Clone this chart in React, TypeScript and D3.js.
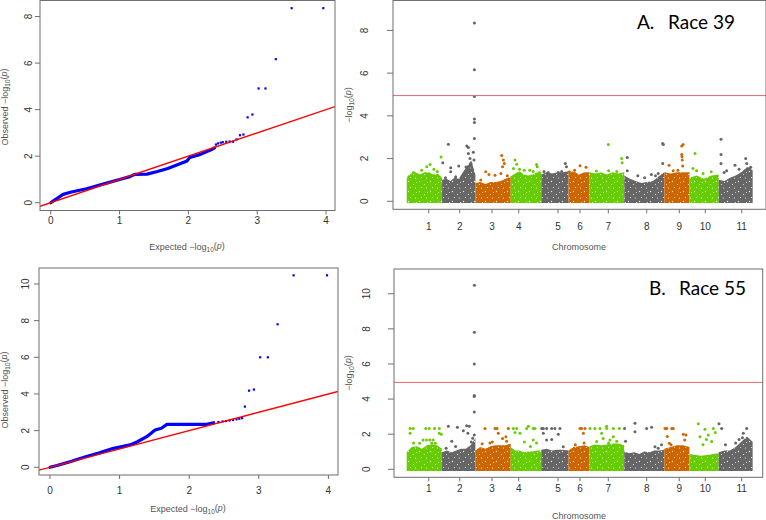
import React, { useRef, useEffect } from 'react';
import * as d3 from 'd3';

// chromosomes (common bean, Mb)
const chromosomes = ['1', '2', '3', '4', '5', '6', '7', '8', '9', '10', '11'];
const chromLengthMb = [52, 49, 52, 45, 40, 31, 51, 59, 37, 43, 50];
const chromTickMb = [32.4, 26, 24.5, 11.8, 24.6, 17, 27.6, 33.1, 22, 23.3, 33.9];
const chromColors = ['#66cd00', '#666666', '#cd6600'];

const qqTicksX = [0, 1, 2, 3, 4];
const ticksY39 = [0, 2, 4, 6, 8];
const ticksY55 = [0, 2, 4, 6, 8, 10];
const threshold = 4.95;

// QQ race 39: dense part (expected, observed) and separate points
const qq39Curve = [
  [0, 0], [0.05, 0.1], [0.1, 0.2], [0.18, 0.36], [0.3, 0.46], [0.52, 0.6], [0.8, 0.83], [1.0, 1.0],
  [1.15, 1.12], [1.22, 1.22], [1.4, 1.23], [1.55, 1.34], [1.7, 1.47], [1.85, 1.64], [1.98, 1.79],
  [2.02, 1.95], [2.15, 2.05], [2.32, 2.26], [2.38, 2.36],
];
const qq39Points = [
  [2.4, 2.5], [2.43, 2.55], [2.47, 2.58], [2.5, 2.6], [2.55, 2.62], [2.6, 2.63], [2.65, 2.62],
  [2.7, 2.72], [2.75, 2.9], [2.8, 2.93], [2.86, 3.67], [2.93, 3.79], [3.02, 4.91], [3.12, 4.91],
  [3.27, 6.17], [3.5, 8.36], [3.96, 8.36],
];

// QQ race 55
const qq55Curve = [
  [0, 0], [0.1, 0.1], [0.3, 0.32], [0.5, 0.56], [0.7, 0.78], [0.9, 1.02], [1.15, 1.22], [1.25, 1.38],
  [1.39, 1.67], [1.51, 2.03], [1.6, 2.13], [1.68, 2.34], [2.25, 2.34], [2.35, 2.43],
];
const qq55Points = [
  [2.42, 2.47], [2.48, 2.5], [2.53, 2.52], [2.58, 2.55], [2.63, 2.58], [2.68, 2.62], [2.72, 2.65],
  [2.76, 2.68], [2.8, 3.31], [2.86, 4.18], [2.93, 4.24], [3.02, 6.0], [3.13, 6.0], [3.27, 7.8],
  [3.5, 10.47], [3.98, 10.47],
];

// Manhattan race 39: top of the dense cloud along each chromosome
const dense39 = [
  [1.0, 1.25, 1.3, 1.2, 1.3, 1.3, 1.2, 1.25, 1.05],
  [0.95, 1.0, 0.9, 1.05, 1.0, 1.3, 1.6, 1.85, 1.2],
  [0.8, 0.85, 0.75, 0.85, 0.85, 0.9, 1.0, 1.1],
  [1.1, 1.25, 1.35, 1.2, 1.15, 1.2, 1.3, 1.4],
  [1.2, 1.3, 1.25, 1.3, 1.3, 1.35],
  [1.3, 1.35, 1.2, 1.3, 1.3],
  [1.3, 1.25, 1.3, 1.2, 1.3, 1.25, 1.3],
  [1.15, 1.0, 0.9, 0.8, 0.85, 0.9, 1.1, 1.3],
  [1.3, 1.25, 1.3, 1.3, 1.3],
  [1.05, 1.15, 1.0, 1.15, 1.2],
  [0.95, 0.9, 1.05, 1.15, 1.3, 1.55, 1.4],
];
// [chromosome, position Mb, -log10 p]
const peaks39 = [
  [1, 34.3, 1.72], [1, 29.4, 1.62], [1, 50.5, 2.08], [1, 22, 1.45], [1, 40, 1.5], [1, 45, 1.4],
  [1, 10, 1.35], [1, 3, 1.15],
  [2, 1, 1.8], [2, 9.2, 2.67], [2, 12.7, 1.57], [2, 12.7, 1.38], [2, 24.5, 1.65], [2, 36.3, 2.59],
  [2, 38.7, 2.52], [2, 38.7, 2.24], [2, 41.1, 2.0], [2, 35.2, 1.61], [2, 42.6, 1.77], [2, 46, 2.3],
  [2, 47.5, 2.94], [2, 47.5, 3.69], [2, 47.5, 3.85], [2, 47.5, 4.91], [2, 47.5, 6.16], [2, 47.5, 8.35],
  [2, 47, 1.93], [2, 44, 1.5], [2, 40, 1.4], [2, 33, 1.35], [2, 20, 1.15], [2, 5, 1.1],
  [3, 15.2, 1.38], [3, 28.9, 1.22], [3, 38.7, 2.14], [3, 41.2, 1.93], [3, 40, 1.62], [3, 42.6, 1.77],
  [3, 37.5, 1.3], [3, 20, 1.25], [3, 8, 1.0], [3, 47, 1.2],
  [4, 6.3, 1.93], [4, 8.8, 1.74], [4, 3.9, 1.54], [4, 38, 1.72], [4, 39, 1.62], [4, 20, 1.45], [4, 28, 1.45],
  [4, 13, 1.5], [4, 33, 1.4],
  [5, 35.3, 1.77], [5, 37, 1.62], [5, 10, 1.35], [5, 25, 1.35], [5, 30, 1.4], [5, 4, 1.4],
  [6, 17, 1.67], [6, 25.8, 1.59], [6, 1.3, 1.38], [6, 9, 1.45],
  [7, 27.6, 2.66], [7, 47.3, 2.0], [7, 48, 1.8], [7, 28, 1.43], [7, 10, 1.42], [7, 40, 1.4],
  [8, 4.5, 2.05], [8, 4.5, 1.43], [8, 56.6, 2.71], [8, 57.5, 2.66], [8, 56.6, 1.77], [8, 40, 1.25],
  [8, 50, 1.3], [8, 20, 1.2], [8, 30, 1.1], [8, 46, 1.2],
  [9, 25.6, 2.59], [9, 27.7, 2.66], [9, 25.6, 2.19], [9, 26, 2.09], [9, 26.4, 1.93], [9, 27, 1.65],
  [9, 7, 1.69], [9, 13, 1.43], [9, 20, 1.45],
  [10, 8.2, 2.24], [10, 5, 1.54], [10, 10.5, 1.43], [10, 32, 1.38], [10, 20, 1.3],
  [11, 3.4, 2.91], [11, 3.4, 2.19], [11, 3.4, 1.77], [11, 24, 1.69], [11, 39.7, 2.0], [11, 41.2, 1.77],
  [11, 45, 1.54], [11, 11.7, 1.43], [11, 8, 1.35], [11, 30, 1.5], [11, 47, 1.6],
];

// Manhattan race 55
const dense55 = [
  [0.9, 1.2, 1.25, 1.1, 1.3, 1.35, 1.3, 1.1],
  [0.9, 1.0, 0.9, 1.0, 1.1, 1.1, 1.3, 1.7],
  [1.0, 1.2, 1.1, 1.25, 1.3, 1.3, 1.3, 1.4],
  [1.2, 1.0, 1.0, 0.9, 0.95, 0.95, 1.0, 1.0],
  [1.05, 1.1, 1.0, 1.05, 1.05, 1.0],
  [1.0, 1.2, 1.25, 1.3, 1.2],
  [1.25, 1.35, 1.3, 1.35, 1.4, 1.4, 1.3],
  [0.95, 0.85, 0.9, 0.8, 0.95, 0.9, 1.0, 1.0, 1.05],
  [1.1, 1.2, 1.3, 1.3, 1.2],
  [0.8, 0.75, 0.7, 0.75, 0.8, 0.85],
  [0.9, 1.0, 1.0, 1.2, 1.5, 1.8, 1.5],
];
const peaks55 = [
  [1, 5, 2.33], [1, 9.5, 2.33], [1, 28, 2.33], [1, 33, 2.33], [1, 41, 2.33], [1, 48, 2.33],
  [1, 5, 2.05], [1, 48, 2.05], [1, 51, 2.0], [1, 24, 1.67], [1, 29, 1.67], [1, 34, 1.67], [1, 39, 1.67],
  [1, 19, 1.48], [1, 37, 1.48], [1, 42, 1.48], [1, 10, 1.5],
  [2, 9.3, 2.45], [2, 22.5, 2.39], [2, 36.2, 2.48], [2, 40.1, 2.45], [2, 31.3, 2.2], [2, 14.2, 1.6],
  [2, 47.5, 10.48], [2, 47.5, 7.8], [2, 47.5, 6.0], [2, 47.5, 4.2], [2, 47.3, 4.14], [2, 47.5, 3.26],
  [2, 47.5, 1.96], [2, 45.1, 1.77], [2, 38, 2.05], [2, 43, 1.55], [2, 20, 1.3], [2, 6, 1.2],
  [3, 14.2, 2.33], [3, 28.9, 2.33], [3, 32, 2.33], [3, 48.5, 2.33], [3, 33.8, 2.05], [3, 46.1, 1.6],
  [3, 21.5, 1.5], [3, 40, 1.75], [3, 45, 1.85], [3, 25, 1.55], [3, 10, 1.45],
  [4, 3.9, 2.33], [4, 8.8, 2.33], [4, 23.5, 2.33], [4, 33.3, 2.33], [4, 35.8, 2.33], [4, 26, 2.45],
  [4, 13.7, 2.05], [4, 6.3, 2.1], [4, 33.3, 1.67], [4, 38, 1.5], [4, 20, 1.55], [4, 29, 1.3],
  [5, 0.6, 2.33], [5, 3, 2.33], [5, 8, 2.33], [5, 15.3, 2.33], [5, 20, 2.33], [5, 27.5, 2.33],
  [5, 7.9, 1.67], [5, 15.3, 1.7], [5, 3, 2.05], [5, 32.4, 1.29], [5, 25, 2.0],
  [6, 17, 2.33], [6, 19.4, 2.33], [6, 24.3, 2.33], [6, 21.9, 2.05], [6, 10, 1.4], [6, 23, 1.5],
  [7, 0.7, 2.33], [7, 8, 2.33], [7, 15.4, 2.33], [7, 25.2, 2.33], [7, 35, 2.33], [7, 43.8, 2.33],
  [7, 25.2, 2.45], [7, 17.8, 2.05], [7, 30.1, 1.67], [7, 10.5, 1.58], [7, 35, 1.86], [7, 20, 1.75],
  [7, 28, 1.5], [7, 40, 1.6],
  [8, 15.9, 2.62], [8, 15.9, 2.14], [8, 33, 2.33], [8, 40.4, 2.4], [8, 0.5, 2.33], [8, 45.3, 1.29],
  [8, 55, 1.4], [8, 2, 1.6], [8, 50, 1.2],
  [9, 1, 2.33], [9, 3.5, 2.33], [9, 13.3, 2.33], [9, 11, 2.33], [9, 4.4, 1.87], [9, 7.4, 1.48],
  [9, 31.9, 1.96], [9, 30, 1.67], [9, 28, 2.0], [9, 10, 1.4],
  [10, 13, 2.6], [10, 22.9, 2.28], [10, 27.8, 1.96], [10, 35.1, 2.33], [10, 32.7, 1.58], [10, 15.5, 1.86],
  [10, 25, 1.7], [10, 20, 1.4], [10, 38, 2.1],
  [11, 0.5, 2.6], [11, 4.4, 2.33], [11, 41.2, 2.33], [11, 36.3, 2.05], [11, 30, 1.7], [11, 35, 1.8],
  [11, 38, 1.6], [11, 25, 1.5], [11, 10, 1.4],
];

const tickFont = '"Liberation Sans", Arial, sans-serif';
// white gaps inside the dense marker clouds
const speckSpots = [[1.5, 1.5, 0.7], [6.5, 4.5, 0.6], [3.5, 7.5, 0.55], [9.5, 2.5, 0.5], [8.5, 8, 0.6]];

function logLabel(text, prefix) {
  text.append('tspan').text(prefix + '\u2212log');
  text.append('tspan').attr('font-size', '0.72em').attr('dy', '0.3em').text('10');
  text.append('tspan').attr('dy', '-0.3em').text('(');
  text.append('tspan').attr('font-style', 'italic').text('p');
  text.append('tspan').text(')');
}

function drawQQ(svg, p) {
  const x = d3.scaleLinear().domain(p.xLim).range([p.box.left, p.box.right]);
  const y = d3.scaleLinear().domain(p.yLim).range([p.box.bottom, p.box.top]);
  const g = svg.append('g');

  g.append('clipPath').attr('id', p.id).append('rect')
    .attr('x', p.box.left).attr('y', p.box.top)
    .attr('width', p.box.right - p.box.left).attr('height', p.box.bottom - p.box.top);

  const plot = g.append('g').attr('clip-path', `url(#${p.id})`);

  plot.append('path')
    .datum(p.curve)
    .attr('fill', 'none')
    .attr('stroke', '#0000ff')
    .attr('stroke-width', 3.2)
    .attr('stroke-linejoin', 'round')
    .attr('stroke-linecap', 'round')
    .attr('d', d3.line().x((d) => x(d[0])).y((d) => y(d[1])));

  plot.selectAll('.qq-pt')
    .data(p.points)
    .join('rect')
    .attr('class', 'qq-pt')
    .attr('x', (d) => x(d[0]) - 1.1)
    .attr('y', (d) => y(d[1]) - 1.1)
    .attr('width', 2.2)
    .attr('height', 2.2)
    .attr('fill', '#0000ff');

  // y = x reference line
  plot.append('line')
    .attr('x1', x(p.xLim[0])).attr('y1', y(p.xLim[0]))
    .attr('x2', x(p.xLim[1])).attr('y2', y(p.xLim[1]))
    .attr('stroke', '#ff0000')
    .attr('stroke-width', 1.4);

  g.append('rect')
    .attr('x', p.box.left).attr('y', p.box.top)
    .attr('width', p.box.right - p.box.left).attr('height', p.box.bottom - p.box.top)
    .attr('fill', 'none').attr('stroke', '#6f6f6f');

  const xt = g.selectAll('.xt').data(qqTicksX).join('g').attr('class', 'xt');
  xt.append('line')
    .attr('x1', (d) => x(d)).attr('x2', (d) => x(d))
    .attr('y1', p.box.bottom).attr('y2', p.box.bottom + 4)
    .attr('stroke', '#6f6f6f');
  xt.append('text')
    .attr('x', (d) => x(d)).attr('y', p.xLabelY)
    .attr('text-anchor', 'middle').attr('dominant-baseline', 'central')
    .attr('font-family', tickFont).attr('font-size', 10).attr('fill', '#333')
    .text((d) => d);

  const yt = g.selectAll('.yt').data(p.yTicks).join('g').attr('class', 'yt');
  yt.append('line')
    .attr('x1', p.box.left - 5).attr('x2', p.box.left)
    .attr('y1', (d) => y(d)).attr('y2', (d) => y(d))
    .attr('stroke', '#6f6f6f');
  yt.append('text')
    .attr('transform', (d) => `translate(${p.yLabelX},${y(d)}) rotate(-90)`)
    .attr('text-anchor', 'middle').attr('dominant-baseline', 'central')
    .attr('font-family', tickFont).attr('font-size', 10).attr('fill', '#333')
    .text((d) => d);

  const xTitle = g.append('text')
    .attr('x', p.xTitle[0]).attr('y', p.xTitle[1])
    .attr('text-anchor', 'middle').attr('dominant-baseline', 'central')
    .attr('font-family', tickFont).attr('font-size', 9).attr('fill', '#555');
  logLabel(xTitle, 'Expected  ');

  const yTitle = g.append('text')
    .attr('transform', `translate(${p.yTitle[0]},${p.yTitle[1]}) rotate(-90)`)
    .attr('text-anchor', 'middle').attr('dominant-baseline', 'central')
    .attr('font-family', tickFont).attr('font-size', 9).attr('fill', '#555');
  logLabel(yTitle, 'Observed  ');
}

function drawManhattan(svg, p) {
  const x = d3.scaleLinear().domain(p.xLim).range([p.box.left, p.box.right]);
  const y = d3.scaleLinear().domain(p.yLim).range([p.box.bottom, p.box.top]);
  const starts = [0, ...d3.cumsum(chromLengthMb)];
  const g = svg.append('g');
  const defs = g.append('defs');

  chromColors.forEach((c, k) => {
    const pat = defs.append('pattern')
      .attr('id', `${p.id}-fill${k}`)
      .attr('patternUnits', 'userSpaceOnUse')
      .attr('width', 11).attr('height', 10);
    pat.append('rect').attr('width', 11).attr('height', 10).attr('fill', c);
    speckSpots.forEach(([sx, sy, r]) => {
      pat.append('circle').attr('cx', sx).attr('cy', sy).attr('r', r).attr('fill', '#fff').attr('opacity', 0.85);
    });
  });

  g.append('clipPath').attr('id', p.id).append('rect')
    .attr('x', p.box.left).attr('y', p.box.top)
    .attr('width', p.box.right - p.box.left).attr('height', p.box.bottom - p.box.top);
  const plot = g.append('g').attr('clip-path', `url(#${p.id})`);

  // dense cloud of markers per chromosome
  p.dense.forEach((heights, i) => {
    const step = chromLengthMb[i] / (heights.length - 1);
    const pts = heights.map((h, j) => [starts[i] + j * step, h]);
    const area = d3.area()
      .x((d) => x(d[0]))
      .y0(y(0) + 1.6)
      .y1((d) => y(d[1]) - 1.2)
      .curve(d3.curveLinear);
    plot.append('path')
      .datum(pts)
      .attr('fill', `url(#${p.id}-fill${i % 3})`)
      .attr('d', area);
  });

  plot.selectAll('.snp')
    .data(p.peaks)
    .join('circle')
    .attr('class', 'snp')
    .attr('cx', (d) => x(starts[d[0] - 1] + d[1]))
    .attr('cy', (d) => y(d[2]))
    .attr('r', 1.5)
    .attr('fill', (d) => chromColors[(d[0] - 1) % 3]);

  plot.append('line')
    .attr('x1', p.box.left).attr('x2', p.box.right)
    .attr('y1', y(threshold)).attr('y2', y(threshold))
    .attr('stroke', '#e8686a').attr('stroke-width', 1);

  g.append('rect')
    .attr('x', p.box.left).attr('y', p.box.top)
    .attr('width', p.box.right - p.box.left).attr('height', p.box.bottom - p.box.top)
    .attr('fill', 'none').attr('stroke', '#6f6f6f');

  const xt = g.selectAll('.xt').data(chromosomes).join('g').attr('class', 'xt');
  xt.append('line')
    .attr('x1', (d, i) => x(starts[i] + chromTickMb[i])).attr('x2', (d, i) => x(starts[i] + chromTickMb[i]))
    .attr('y1', p.box.bottom).attr('y2', p.box.bottom + 4)
    .attr('stroke', '#6f6f6f');
  xt.append('text')
    .attr('x', (d, i) => x(starts[i] + chromTickMb[i])).attr('y', p.xLabelY)
    .attr('text-anchor', 'middle').attr('dominant-baseline', 'central')
    .attr('font-family', tickFont).attr('font-size', 10).attr('fill', '#333')
    .text((d) => d);

  const yt = g.selectAll('.yt').data(p.yTicks).join('g').attr('class', 'yt');
  yt.append('line')
    .attr('x1', p.box.left - 6).attr('x2', p.box.left)
    .attr('y1', (d) => y(d)).attr('y2', (d) => y(d))
    .attr('stroke', '#6f6f6f');
  yt.append('text')
    .attr('transform', (d) => `translate(${p.yLabelX},${y(d)}) rotate(-90)`)
    .attr('text-anchor', 'middle').attr('dominant-baseline', 'central')
    .attr('font-family', tickFont).attr('font-size', 10).attr('fill', '#333')
    .text((d) => d);

  g.append('text')
    .attr('x', p.xTitle[0]).attr('y', p.xTitle[1])
    .attr('text-anchor', 'middle').attr('dominant-baseline', 'central')
    .attr('font-family', tickFont).attr('font-size', 9).attr('fill', '#555')
    .text('Chromosome');

  const yTitle = g.append('text')
    .attr('transform', `translate(${p.yTitle[0]},${p.yTitle[1]}) rotate(-90)`)
    .attr('text-anchor', 'middle').attr('dominant-baseline', 'central')
    .attr('font-family', tickFont).attr('font-size', 9).attr('fill', '#555');
  logLabel(yTitle, '');

  g.append('text')
    .attr('x', p.tag[0]).attr('y', p.tag[2])
    .attr('font-family', 'Lato, "Open Sans", sans-serif').attr('font-size', 19).attr('fill', '#000')
    .text(p.tagLetter);
  g.append('text')
    .attr('x', p.tag[1]).attr('y', p.tag[2])
    .attr('font-family', 'Lato, "Open Sans", sans-serif').attr('font-size', 19).attr('fill', '#000')
    .text(p.tagText);
}

function App() {
  const svgRef = useRef(null);

  useEffect(() => {
    const svg = d3.select(svgRef.current);
    svg.selectAll('*').remove();

    drawQQ(svg, {
      id: 'qq39',
      box: { left: 40, right: 335, top: 0.5, bottom: 210.5 },
      xLim: [-0.156, 4.13],
      yLim: [-0.334, 8.69],
      yTicks: ticksY39,
      curve: qq39Curve,
      points: qq39Points,
      xLabelY: 220,
      yLabelX: 28,
      xTitle: [187, 247],
      yTitle: [5, 107],
    });

    drawQQ(svg, {
      id: 'qq55',
      box: { left: 39, right: 338, top: 268, bottom: 475 },
      xLim: [-0.158, 4.138],
      yLim: [-0.42, 10.87],
      yTicks: ticksY55,
      curve: qq55Curve,
      points: qq55Points,
      xLabelY: 490,
      yLabelX: 25,
      xTitle: [188, 509],
      yTitle: [5, 390],
    });

    drawManhattan(svg, {
      id: 'mh39',
      box: { left: 393, right: 766, top: 0.5, bottom: 209.3 },
      xLim: [-20.2, 528.6],
      yLim: [-0.374, 9.4],
      yTicks: ticksY39,
      dense: dense39,
      peaks: peaks39,
      xLabelY: 226,
      yLabelX: 364,
      xTitle: [579, 247],
      yTitle: [349, 105],
      tag: [637, 668, 29],
      tagLetter: 'A.',
      tagText: 'Race 39',
    });

    drawManhattan(svg, {
      id: 'mh55',
      box: { left: 394, right: 762.7, top: 269, bottom: 477.3 },
      xLim: [-18.7, 523.8],
      yLim: [-0.456, 11.41],
      yTicks: ticksY55,
      dense: dense55,
      peaks: peaks55,
      xLabelY: 488,
      yLabelX: 366,
      xTitle: [579, 516],
      yTitle: [349, 373],
      tag: [649, 679, 295],
      tagLetter: 'B.',
      tagText: 'Race 55',
    });
  }, []);

  return (
    <svg
      ref={svgRef}
      width={766}
      height={520}
      style={{ position: 'absolute', left: 0, top: 0, background: '#fff' }}
    />
  );
}

export default App;
